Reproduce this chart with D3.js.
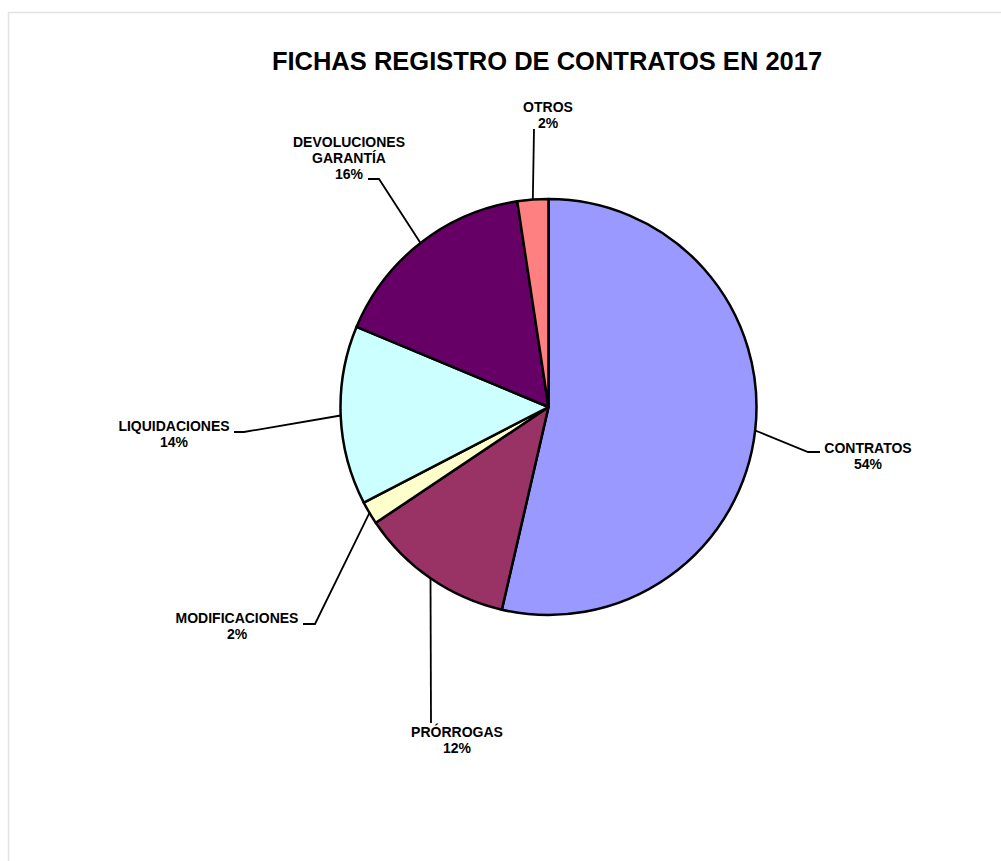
<!DOCTYPE html>
<html>
<head>
<meta charset="utf-8">
<script src="https://cdn.jsdelivr.net/npm/d3@7/dist/d3.min.js"></script>
<style>
  html, body { margin: 0; padding: 0; background: #ffffff; }
  svg { display: block; }
  text { font-family: "Liberation Sans", Arial, Helvetica, sans-serif; font-weight: bold; fill: #000; }
</style>
</head>
<body>
<svg id="chart" width="1001" height="861"></svg>
<script>
// Registro de contratos 2017: share of each record type
const categories = ["CONTRATOS", "PRÓRROGAS", "MODIFICACIONES", "LIQUIDACIONES", "DEVOLUCIONES GARANTÍA", "OTROS"];
const values = [53.6, 12.0, 1.8, 13.9, 16.3, 2.4];
const labelLines = [["CONTRATOS"], ["PRÓRROGAS"], ["MODIFICACIONES"], ["LIQUIDACIONES"], ["DEVOLUCIONES", "GARANTÍA"], ["OTROS"]];
const sliceColors = ["#9999FF", "#993366", "#FFFFCC", "#CCFFFF", "#660066", "#FF8080"];
const title = "FICHAS REGISTRO DE CONTRATOS EN 2017";

// Label placement: leader elbow / end points and text anchor (centre x, first baseline)
const labelLayout = [
  { elbow: [808, 452], end: [820, 452], tx: 868, ty: 453 },
  { elbow: [431, 723], end: null,       tx: 457, ty: 737 },
  { elbow: [315, 624], end: [303, 624], tx: 237, ty: 623 },
  { elbow: [244, 432], end: [234, 432], tx: 174, ty: 431 },
  { elbow: [379, 179], end: [368, 179], tx: 349, ty: 147 },
  { elbow: [534, 129], end: null,       tx: 548, ty: 112 }
];

const svg = d3.select("#chart");
const cx = 548.5, cy = 407, radius = 208;
const lineH = 16;

// frame
svg.append("rect")
  .attr("x", 8.5).attr("y", 12.5)
  .attr("width", 1100).attr("height", 1000)
  .attr("fill", "none")
  .attr("stroke", "#e2e2e2")
  .attr("stroke-width", 1.5);

// title
svg.append("text")
  .attr("x", 547).attr("y", 70)
  .attr("text-anchor", "middle")
  .style("font-size", "25.5px")
  .text(title);

const data = categories.map((c, i) => ({ name: c, value: values[i], lines: labelLines[i], color: sliceColors[i], layout: labelLayout[i] }));
const total = d3.sum(values);
const pct = d3.format(".0%");

const pie = d3.pie().sort(null).value(d => d.value);
const arcs = pie(data);

const arc = d3.arc().innerRadius(0).outerRadius(radius);
const edgeArc = d3.arc().innerRadius(radius).outerRadius(radius);

const g = svg.append("g").attr("transform", `translate(${cx},${cy})`);

g.selectAll("path.slice")
  .data(arcs)
  .join("path")
  .attr("class", "slice")
  .attr("d", arc)
  .attr("fill", d => d.data.color)
  .attr("stroke", "#000")
  .attr("stroke-width", 2.5)
  .attr("stroke-linejoin", "round");

// leader lines
svg.selectAll("path.leader")
  .data(arcs)
  .join("path")
  .attr("class", "leader")
  .attr("fill", "none")
  .attr("stroke", "#000")
  .attr("stroke-width", 1.8)
  .attr("d", d => {
    const [ex, ey] = edgeArc.centroid(d);
    const L = d.data.layout;
    const pts = [[cx + ex, cy + ey], L.elbow];
    if (L.end) pts.push(L.end);
    return d3.line()(pts);
  });

// labels
const labels = svg.selectAll("text.label")
  .data(arcs)
  .join("text")
  .attr("class", "label")
  .attr("text-anchor", "middle")
  .style("font-size", "14px");

labels.each(function(d) {
  const t = d3.select(this);
  const L = d.data.layout;
  const lines = d.data.lines.concat([pct(d.data.value / total)]);
  lines.forEach((s, i) => {
    t.append("tspan")
      .attr("x", L.tx)
      .attr("y", L.ty + i * lineH)
      .text(s);
  });
});
</script>
</body>
</html>
